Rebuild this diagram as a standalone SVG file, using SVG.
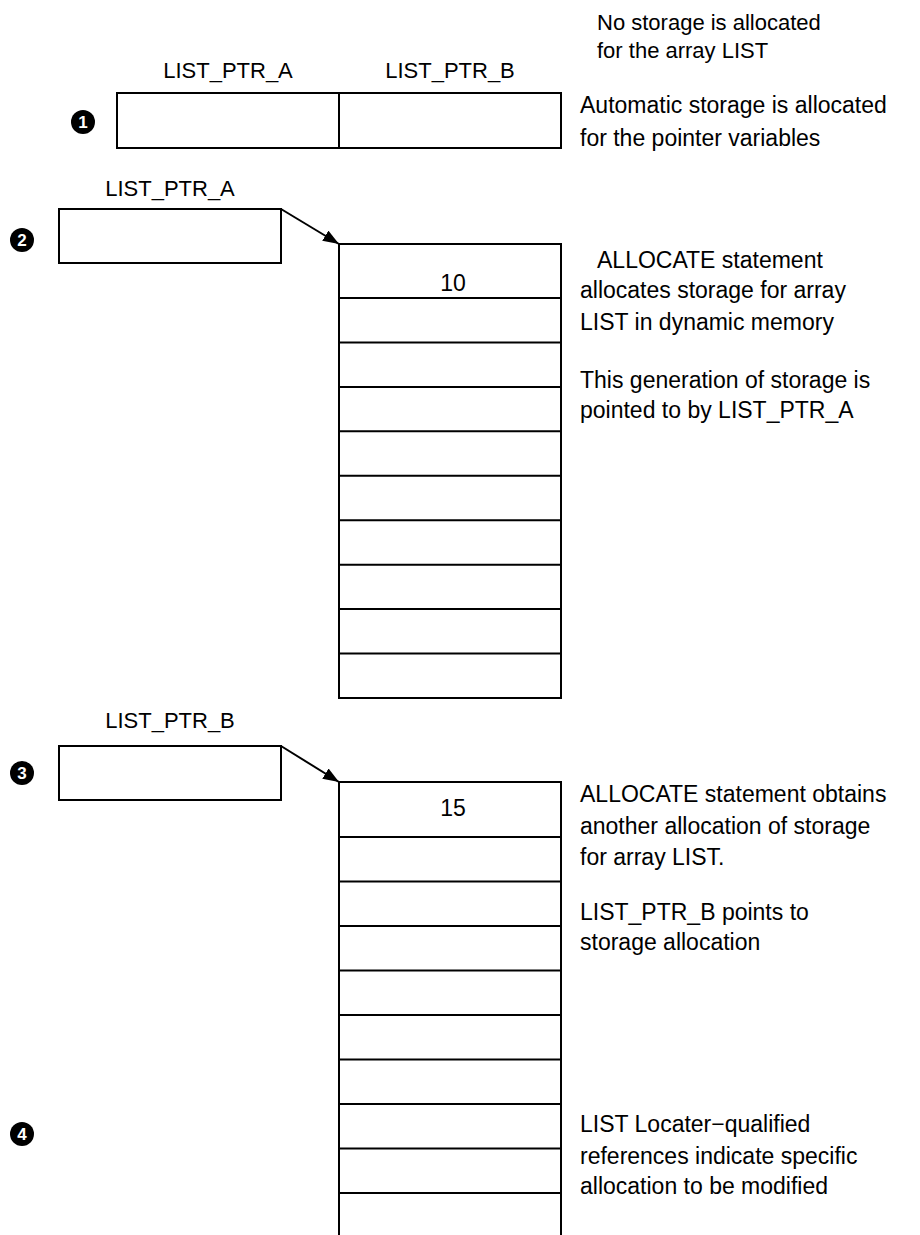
<svg xmlns="http://www.w3.org/2000/svg" width="920" height="1235" viewBox="0 0 920 1235">
<style>
text{font-family:"Liberation Sans",Arial,sans-serif;font-size:22px;fill:#000}
.nt{font-size:23px}
.box{fill:#fff;stroke:#000;stroke-width:2}
.ln{stroke:#000;stroke-width:2;fill:none}
.mid{text-anchor:middle}
.cn{fill:#000}
.ct{fill:#fff;font-weight:bold;font-size:17px;text-anchor:middle}
</style>
<defs>
<marker id="ah" viewBox="0 0 16 12" refX="16" refY="6" markerWidth="16" markerHeight="12" markerUnits="userSpaceOnUse" orient="auto">
<path d="M0,0 L16,6 L0,12 Z" fill="#000"/>
</marker>
</defs>
<g id="notes">
<text x="597" y="30">No storage is allocated</text>
<text x="597" y="58">for the array LIST</text>
<text class="nt" x="580" y="113">Automatic storage is allocated</text>
<text class="nt" x="580" y="146">for the pointer variables</text>
<text class="nt" x="597" y="268">ALLOCATE statement</text>
<text class="nt" x="580" y="298">allocates storage for array</text>
<text class="nt" x="580" y="330">LIST in dynamic memory</text>
<text class="nt" x="580" y="388">This generation of storage is</text>
<text class="nt" x="580" y="418">pointed to by LIST_PTR_A</text>
<text class="nt" x="580" y="802">ALLOCATE statement obtains</text>
<text class="nt" x="580" y="834">another allocation of storage</text>
<text class="nt" x="580" y="865">for array LIST.</text>
<text class="nt" x="580" y="920">LIST_PTR_B points to</text>
<text class="nt" x="580" y="950">storage allocation</text>
<text class="nt" x="580" y="1132">LIST Locater−qualified</text>
<text class="nt" x="580" y="1164">references indicate specific</text>
<text class="nt" x="580" y="1194">allocation to be modified</text>
</g>
<g id="step1">
<circle class="cn" cx="83" cy="122" r="12"/><text class="ct" x="83" y="128">1</text>
<text class="mid" x="228" y="78">LIST_PTR_A</text>
<text class="mid" x="450" y="78">LIST_PTR_B</text>
<rect class="box" x="117" y="93" width="444" height="55"/>
<line class="ln" x1="339" y1="93" x2="339" y2="148"/>
</g>
<g id="step2">
<circle class="cn" cx="22" cy="240" r="12"/><text class="ct" x="22" y="246">2</text>
<text class="mid" x="170" y="196">LIST_PTR_A</text>
<rect class="box" x="59" y="209" width="222" height="54"/>
</g>
<g id="array1">
<rect class="box" x="339" y="244" width="222" height="454"/>
<path class="ln" d="M339,298H561M339,342.4H561M339,386.9H561M339,431.3H561M339,475.8H561M339,520.2H561M339,564.7H561M339,609.1H561M339,653.6H561"/>
<text class="mid nt" x="453" y="291">10</text>
</g>
<g id="step3">
<circle class="cn" cx="22" cy="773" r="12"/><text class="ct" x="22" y="779">3</text>
<text class="mid" x="170" y="728">LIST_PTR_B</text>
<rect class="box" x="59" y="746" width="222" height="54"/>
</g>
<g id="array2">
<path class="ln" d="M339,1236V782H561V1236"/>
<path class="ln" d="M339,837H561M339,881.5H561M339,926H561M339,970.5H561M339,1015H561M339,1059.5H561M339,1104H561M339,1148.5H561M339,1193H561"/>
<text class="mid nt" x="453" y="816">15</text>
</g>
<g id="step4">
<circle class="cn" cx="22" cy="1134" r="12"/><text class="ct" x="22" y="1140">4</text>
</g>
<g id="connectors">
<line class="ln" x1="281" y1="209" x2="339" y2="244" marker-end="url(#ah)"/>
<line class="ln" x1="281" y1="746" x2="339" y2="782" marker-end="url(#ah)"/>
</g>
</svg>
